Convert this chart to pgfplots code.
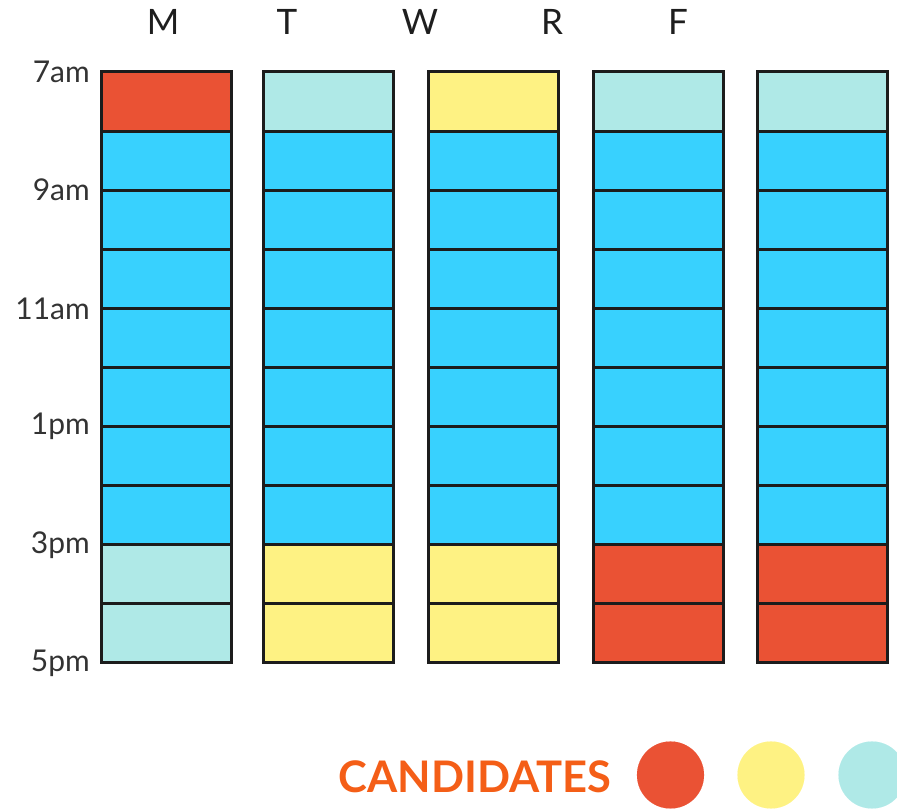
\documentclass[border=0pt]{standalone}
\usepackage{pgfplots}
\usepackage{pgfplotstable}
\pgfplotsset{compat=1.18}
\usepackage{fontspec}
\setmainfont{Lato}

\definecolor{cRed}{HTML}{EA5234}
\definecolor{cBlue}{HTML}{38D1FE}
\definecolor{cCyan}{HTML}{AFE9E7}
\definecolor{cYellow}{HTML}{FEF283}
\definecolor{cOrange}{HTML}{F45E17}
\definecolor{cLine}{HTML}{1C1C1C}
\definecolor{cTick}{HTML}{333333}
\definecolor{cDay}{HTML}{1E1E1E}

% one hour slot: 130pt wide, one y unit (59.1pt) high
\pgfdeclareplotmark{slot}{%
  \pgfpathrectangle{\pgfpoint{-65pt}{-29.55pt}}{\pgfpoint{130pt}{59.1pt}}%
  \pgfusepathqfillstroke}

\tikzset{
    slot/.style={mark=slot, draw=cLine, line width=3pt},
    dot/.style={mark=*, mark size=33.5pt, line width=0.1pt},
}

% x = column centre, y = middle of the hour, c = candidate class
\pgfplotstableread{
x y c
166.5 7.5 r
166.5 8.5 b
166.5 9.5 b
166.5 10.5 b
166.5 11.5 b
166.5 12.5 b
166.5 13.5 b
166.5 14.5 b
166.5 15.5 c
166.5 16.5 c
328 7.5 c
328 8.5 b
328 9.5 b
328 10.5 b
328 11.5 b
328 12.5 b
328 13.5 b
328 14.5 b
328 15.5 y
328 16.5 y
493 7.5 y
493 8.5 b
493 9.5 b
493 10.5 b
493 11.5 b
493 12.5 b
493 13.5 b
493 14.5 b
493 15.5 y
493 16.5 y
658 7.5 c
658 8.5 b
658 9.5 b
658 10.5 b
658 11.5 b
658 12.5 b
658 13.5 b
658 14.5 b
658 15.5 r
658 16.5 r
822 7.5 c
822 8.5 b
822 9.5 b
822 10.5 b
822 11.5 b
822 12.5 b
822 13.5 b
822 14.5 b
822 15.5 r
822 16.5 r
}\slots

\pgfplotstableread{
x y c
670.5 18.895 r
771 18.895 y
872 18.895 c
}\keydots

\begin{document}
\begin{tikzpicture}
\begin{axis}[
    scale only axis,
    width=788pt, height=591pt,
    xmin=100, xmax=888,
    ymin=7, ymax=17,
    y dir=reverse,
    clip=false,
    axis line style={draw=none},
    major tick length=0pt,
    tick style={draw=none},
    xtick={163,287,420,552,678},
    xticklabels={M,T,W,R,F},
    xticklabel pos=upper,
    xticklabel style={anchor=south, inner sep=0pt, yshift=37pt,
        font=\fontsize{35}{40}\selectfont, text=cDay},
    ytick={7,9,11,13,15,17},
    yticklabels={7am,9am,11am,1pm,3pm,5pm},
    yticklabel style={anchor=east, inner sep=0pt, xshift=-10pt,
        font=\fontsize{30}{34}\selectfont, text=cTick},
]
\addplot[only marks, scatter, point meta=explicit symbolic,
    scatter/classes={
        r={slot, fill=cRed},
        b={slot, fill=cBlue},
        c={slot, fill=cCyan},
        y={slot, fill=cYellow}}]
    table[x=x, y=y, meta=c] {\slots};
\addplot[only marks, scatter, point meta=explicit symbolic,
    scatter/classes={
        r={dot, fill=cRed, draw=cRed},
        y={dot, fill=cYellow, draw=cYellow},
        c={dot, fill=cCyan, draw=cCyan}}]
    table[x=x, y=y, meta=c] {\keydots};
\node[font=\bfseries\fontsize{43.5}{48}\selectfont, text=cOrange, inner sep=0pt]
    at (axis cs:475,18.929) {CANDIDATES};
\coordinate (bbA) at (axis cs:0,5.782);
\coordinate (bbB) at (axis cs:897,19.470);
\end{axis}
\pgfresetboundingbox
\path[use as bounding box] (bbA) rectangle (bbB);
\end{tikzpicture}
\end{document}
